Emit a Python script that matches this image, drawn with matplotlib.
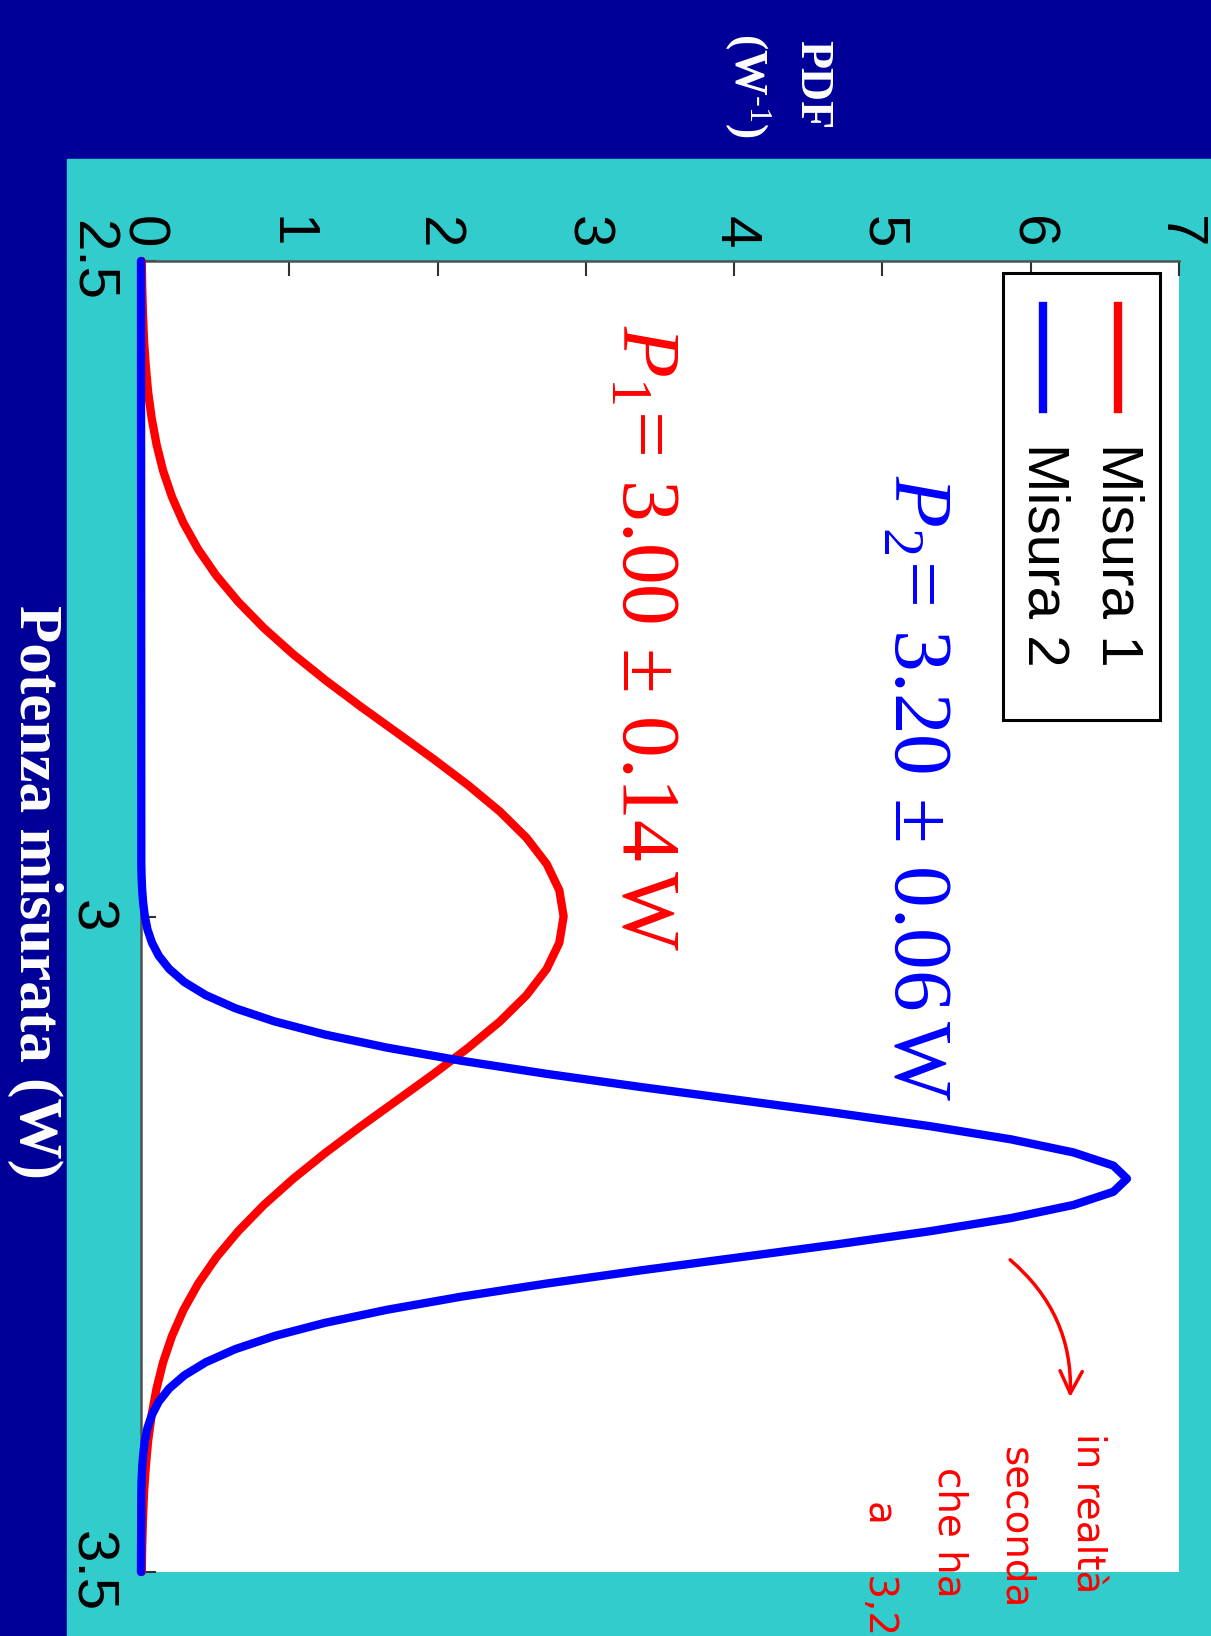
import numpy as np
import matplotlib
matplotlib.use('Agg')
import matplotlib.pyplot as plt
from matplotlib.patches import Rectangle

plt.rcParams['mathtext.fontset'] = 'custom'
plt.rcParams['mathtext.rm'] = 'Liberation Serif'
plt.rcParams['mathtext.it'] = 'Liberation Serif:italic'
plt.rcParams['mathtext.bf'] = 'Liberation Serif:bold'

# Dati (PDF in W^-1 in funzione della potenza in W)
red_power = np.round(np.arange(2.50, 3.501, 0.02), 2)
red_pdf = [0.005, 0.008, 0.013, 0.020, 0.032, 0.048, 0.072, 0.105, 0.149, 0.209,
           0.287, 0.386, 0.508, 0.656, 0.829, 1.027, 1.247, 1.483, 1.729, 1.974,
           2.208, 2.421, 2.600, 2.736, 2.821, 2.850, 2.821, 2.736, 2.600, 2.421,
           2.208, 1.974, 1.729, 1.483, 1.247, 1.027, 0.829, 0.656, 0.508, 0.386,
           0.287, 0.209, 0.149, 0.105, 0.072, 0.048, 0.032, 0.020, 0.013, 0.008,
           0.005]

blue_power = np.concatenate(([2.50], np.round(np.arange(2.96, 3.445, 0.01), 2), [3.50]))
blue_pdf = [0.0,
            0.002, 0.004, 0.008, 0.015, 0.026, 0.044, 0.074, 0.120, 0.190, 0.292,
            0.437, 0.636, 0.900, 1.239, 1.658, 2.159, 2.734, 3.366, 4.033, 4.698,
            5.324, 5.868, 6.289, 6.557, 6.649, 6.557, 6.289, 5.868, 5.324, 4.698,
            4.033, 3.366, 2.734, 2.159, 1.658, 1.239, 0.900, 0.636, 0.437, 0.292,
            0.190, 0.120, 0.074, 0.044, 0.026, 0.015, 0.008, 0.004, 0.002,
            0.0]

series_names = ['Misura 1', 'Misura 2']
series_colors = ['#ff0000', '#0000ff']
pdf_ticks = [0, 1, 2, 3, 4, 5, 6, 7]
power_ticks = [2.5, 3, 3.5]
power_labels = ['2.5', '3', '3.5']

W, H = 1211, 1636
navy = '#000099'
cyan = '#33cccc'

fig = plt.figure(figsize=(W / 100, H / 100), dpi=100, facecolor=navy)

# pannello azzurro (sotto gli assi)
fig.patches.append(Rectangle((67 / W, 0), 1 - 67 / W, 1 - 159 / H,
                             transform=fig.transFigure, color=cyan, zorder=-5))

ax = fig.add_axes([141 / W, 1 - 1572 / H, 1038 / W, 1311 / H])
ax.set_facecolor('white')
ax.set_zorder(1)

ax.plot(red_pdf, red_power, color=series_colors[0], lw=6, clip_on=False, zorder=3,
        solid_joinstyle='round', solid_capstyle='round')
ax.plot(blue_pdf, blue_power, color=series_colors[1], lw=6, clip_on=False, zorder=4,
        solid_joinstyle='round', solid_capstyle='round')

ax.set_xlim(0, 7)
ax.set_ylim(3.5, 2.5)

for s in ['right', 'bottom']:
    ax.spines[s].set_visible(False)
for s in ['top', 'left']:
    ax.spines[s].set_color('#505050')
    ax.spines[s].set_linewidth(1.8)

ax.set_xticks(pdf_ticks)
ax.set_xticklabels([str(t) for t in pdf_ticks], fontfamily='Liberation Sans', fontsize=42)
ax.set_yticks(power_ticks)
ax.set_yticklabels(power_labels, fontfamily='Liberation Sans', fontsize=42)
ax.xaxis.tick_top()
ax.tick_params(axis='x', direction='in', length=11, width=1.5, color='#303030',
               labelrotation=-90, pad=9)
ax.tick_params(axis='y', direction='in', length=11, width=1.5, color='#303030',
               labelrotation=-90, pad=17)
for lab in ax.get_yticklabels():
    lab.set_va('center')

# etichette degli assi (testo ruotato)
fig.text(35 / W, 1 - 892 / H, 'Potenza misurata (W)', rotation=-90, color='white',
         family='Liberation Serif', fontweight='bold', fontsize=44,
         ha='center', va='center')
fig.text(777 / W, 1 - 85 / H, 'PDF\n(W$^{\\text{-1}}$)', rotation=-90, color='white',
         family='Liberation Serif', fontweight='bold', fontsize=33,
         ha='center', va='center', multialignment='center', linespacing=1.45)

# risultati delle misure
ax.text(3.41, 2.549, r'$P_1\!=\,3.00\,\pm\,0.14\,\mathrm{W}$', rotation=-90,
        color=series_colors[0], fontsize=60, ha='center', va='top')
ax.text(5.24, 2.663, r'$P_2\!=\,3.20\,\pm\,0.06\,\mathrm{W}$', rotation=-90,
        color=series_colors[1], fontsize=60, ha='center', va='top')

# legenda disegnata a mano (ruotata)
ax.add_patch(Rectangle((0.830, 0.650), 0.152, 0.341, transform=ax.transAxes,
                       facecolor='white', edgecolor='black', lw=2.2, zorder=6,
                       clip_on=False))
for name, col, xf in zip(series_names, series_colors, [0.941, 0.869]):
    ax.plot([xf, xf], [0.966, 0.887], color=col, lw=6, transform=ax.transAxes,
            zorder=7, clip_on=False)
    ax.text(xf, 0.861, name, rotation=-90, transform=ax.transAxes, color='black',
            family='Liberation Sans', fontsize=42, ha='center', va='top', zorder=7)

# annotazione a mano in rosso
ax.annotate('', xy=(1070, H - 1400), xycoords='figure pixels',
            xytext=(1008, H - 1258), textcoords='figure pixels',
            arrowprops=dict(arrowstyle='->', color='red', lw=2.5,
                            mutation_scale=40,
                            connectionstyle='arc3,rad=-0.25'),
            annotation_clip=False)
notes = [('in realtà', 1088, 1433), ('seconda', 1015, 1447),
         ('che ha', 950, 1467), ('a    3,2', 880, 1500)]
for txt, xp, yp in notes:
    fig.text(xp / W, 1 - yp / H, txt, rotation=-90, color='red',
             family='DejaVu Sans', fontsize=28, ha='center', va='top', zorder=5)

fig.savefig('out.png', dpi=100, facecolor=navy)
